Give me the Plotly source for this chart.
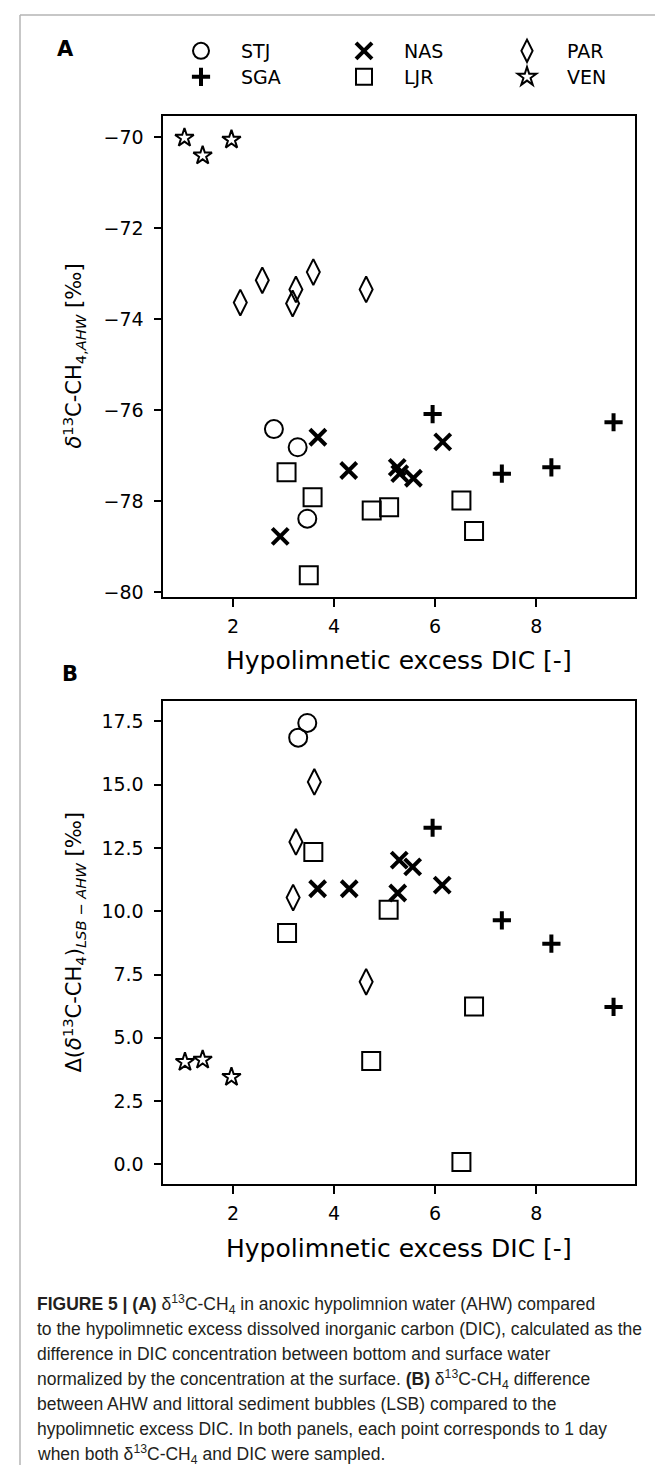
import plotly.graph_objects as go

# ---------------- data ----------------
STJ_A_x = [2.81, 3.28, 3.47]
STJ_A_y = [-76.42, -76.82, -78.39]
STJ_B_x = [3.29, 3.47]
STJ_B_y = [16.86, 17.44]

SGA_A_x = [5.95, 7.32, 8.30, 9.53]
SGA_A_y = [-76.09, -77.40, -77.26, -76.27]
SGA_B_x = [5.95, 7.32, 8.30, 9.53]
SGA_B_y = [13.30, 9.64, 8.72, 6.22]

NAS_A_x = [2.935, 3.68, 4.29, 5.25, 5.30, 5.57, 6.15]
NAS_A_y = [-78.78, -76.60, -77.33, -77.26, -77.40, -77.50, -76.70]
NAS_B_x = [3.675, 4.30, 5.26, 5.29, 5.555, 6.14]
NAS_B_y = [10.89, 10.89, 10.72, 12.02, 11.75, 11.03]

LJR_A_x = [3.06, 3.50, 3.575, 4.745, 5.09, 6.52, 6.77]
LJR_A_y = [-77.37, -79.63, -77.92, -78.21, -78.14, -77.99, -78.66]
LJR_B_x = [3.07, 3.59, 4.735, 5.08, 6.52, 6.77]
LJR_B_y = [9.14, 12.34, 4.08, 10.06, 0.09, 6.24]

PAR_A_x = [2.145, 2.58, 3.18, 3.245, 3.59, 4.635]
PAR_A_y = [-73.64, -73.15, -73.66, -73.35, -72.97, -73.35]
PAR_B_x = [3.19, 3.245, 3.61, 4.635]
PAR_B_y = [10.54, 12.74, 15.11, 7.21]

VEN_A_x = [1.04, 1.40, 1.97]
VEN_A_y = [-70.02, -70.41, -70.06]
VEN_B_x = [1.05, 1.40, 1.97]
VEN_B_y = [4.04, 4.13, 3.45]

SITES = ["STJ", "SGA", "NAS", "LJR", "PAR", "VEN"]
X_TICKS = [2, 4, 6, 8]
A_Y_TICKS = [-80, -78, -76, -74, -72, -70]
B_Y_TICKS = [0.0, 2.5, 5.0, 7.5, 10.0, 12.5, 15.0, 17.5]

XLABEL = "Hypolimnetic excess DIC [-]"
A_YLABEL = "<i>δ</i><sup>13</sup>C-CH<sub>4,<i>AHW</i></sub> [‰]"
B_YLABEL = "Δ(<i>δ</i><sup>13</sup>C-CH<sub>4</sub>)<sub><i>LSB</i> − <i>AHW</i></sub> [‰]"

CAPTION_LINES = [
    "<b>FIGURE 5 | (A)</b> δ<sup>13</sup>C-CH<sub>4</sub> in anoxic hypolimnion water (AHW) compared",
    "to the hypolimnetic excess dissolved inorganic carbon (DIC), calculated as the",
    "difference in DIC concentration between bottom and surface water",
    "normalized by the concentration at the surface. <b>(B)</b> δ<sup>13</sup>C-CH<sub>4</sub> difference",
    "between AHW and littoral sediment bubbles (LSB) compared to the",
    "hypolimnetic excess DIC. In both panels, each point corresponds to 1 day",
    "when both δ<sup>13</sup>C-CH<sub>4</sub> and DIC were sampled.",
]

# ---------------- layout geometry (pixels) ----------------
W, H = 663, 1465
AX_L, AX_R = 155, 627
A_TOP, A_BOT = 108, 589
B_TOP, B_BOT = 693, 1176

def px(x):
    return x / W

def py(y):
    return 1 - y / H

def pad_range(vals, frac=0.05):
    lo, hi = min(vals), max(vals)
    d = (hi - lo) * frac
    return [lo - d, hi + d]

all_x = STJ_A_x + SGA_A_x + NAS_A_x + LJR_A_x + PAR_A_x + VEN_A_x + \
        STJ_B_x + SGA_B_x + NAS_B_x + LJR_B_x + PAR_B_x + VEN_B_x
all_ay = STJ_A_y + SGA_A_y + NAS_A_y + LJR_A_y + PAR_A_y + VEN_A_y
all_by = STJ_B_y + SGA_B_y + NAS_B_y + LJR_B_y + PAR_B_y + VEN_B_y

xr = pad_range(all_x)
ayr = pad_range(all_ay)
byr = pad_range(all_by)

FONT = "DejaVu Sans"
BLACK = "black"

styles = {
    "STJ": dict(symbol="circle-open", size=18, line=dict(width=2, color=BLACK)),
    "SGA": dict(symbol="cross-thin-open", size=13, line=dict(width=4, color=BLACK)),
    "NAS": dict(symbol="x-thin-open", size=16, line=dict(width=4, color=BLACK)),
    "LJR": dict(symbol="square-open", size=18, line=dict(width=2, color=BLACK)),
    "PAR": dict(symbol="diamond-tall-open", size=18.5, line=dict(width=2, color=BLACK)),
    "VEN": dict(symbol="star-open", size=14, line=dict(width=2, color=BLACK)),
}
# two legend rows: STJ / NAS / PAR on top, SGA / LJR / VEN below
legend_of = {"STJ": "legend", "NAS": "legend", "PAR": "legend",
             "SGA": "legend2", "LJR": "legend2", "VEN": "legend2"}

data_A = {"STJ": (STJ_A_x, STJ_A_y), "SGA": (SGA_A_x, SGA_A_y),
          "NAS": (NAS_A_x, NAS_A_y), "LJR": (LJR_A_x, LJR_A_y),
          "PAR": (PAR_A_x, PAR_A_y), "VEN": (VEN_A_x, VEN_A_y)}
data_B = {"STJ": (STJ_B_x, STJ_B_y), "SGA": (SGA_B_x, SGA_B_y),
          "NAS": (NAS_B_x, NAS_B_y), "LJR": (LJR_B_x, LJR_B_y),
          "PAR": (PAR_B_x, PAR_B_y), "VEN": (VEN_B_x, VEN_B_y)}

fig = go.Figure()
for s in SITES:
    x, y = data_A[s]
    fig.add_trace(go.Scatter(x=x, y=y, mode="markers", name=s,
                             marker=dict(color=BLACK, **styles[s]),
                             xaxis="x", yaxis="y", legend=legend_of[s],
                             showlegend=True))
for s in SITES:
    x, y = data_B[s]
    fig.add_trace(go.Scatter(x=x, y=y, mode="markers", name=s,
                             marker=dict(color=BLACK, **styles[s]),
                             xaxis="x2", yaxis="y2", showlegend=False))

axis_common = dict(showline=True, linewidth=2, linecolor=BLACK, mirror=True,
                   ticks="outside", ticklen=7.5, tickwidth=1.5, tickcolor=BLACK,
                   showgrid=False, zeroline=False, automargin=False,
                   tickfont=dict(family=FONT, size=19, color=BLACK))

fig.update_layout(
    width=W, height=H, template="none",
    paper_bgcolor="white", plot_bgcolor="white",
    margin=dict(l=0, r=0, t=0, b=0, pad=0),
    xaxis=dict(domain=[px(AX_L), px(AX_R)], range=xr, tickvals=X_TICKS,
               anchor="y", ticklabelstandoff=4, **axis_common),
    yaxis=dict(domain=[py(A_BOT), py(A_TOP)], range=ayr, tickvals=A_Y_TICKS,
               anchor="x", ticklabelstandoff=6, **axis_common),
    xaxis2=dict(domain=[px(AX_L), px(AX_R)], range=xr, tickvals=X_TICKS,
                anchor="y2", ticklabelstandoff=4, **axis_common),
    yaxis2=dict(domain=[py(B_BOT), py(B_TOP)], range=byr, tickvals=B_Y_TICKS,
                tickformat=".1f", anchor="x2", ticklabelstandoff=6, **axis_common),
)

leg_common = dict(orientation="h", xanchor="left", yanchor="middle",
                  itemwidth=70, entrywidth=78, entrywidthmode="pixels",
                  bgcolor="rgba(0,0,0,0)", borderwidth=0,
                  font=dict(family=FONT, size=19, color=BLACK))
fig.update_layout(
    legend=dict(x=px(193 - 40), y=py(43), **leg_common),
    legend2=dict(x=px(193 - 40), y=py(69), **leg_common),
)

ann = []
def label(text, x, y, size, angle=0, family=FONT):
    ann.append(dict(text=text, x=px(x), y=py(y), xref="paper", yref="paper",
                    xanchor="center", yanchor="middle", textangle=angle,
                    showarrow=False, font=dict(family=family, size=size, color=BLACK)))

label("<b>A</b>", 58, 41, 21)
label("<b>B</b>", 62, 666, 21)
label(XLABEL, (AX_L + AX_R) / 2, 652, 25)
label(XLABEL, (AX_L + AX_R) / 2, 1240, 25)
label(A_YLABEL, 65, (A_TOP + A_BOT) / 2, 21, angle=-90)
label(B_YLABEL, 65, (B_TOP + B_BOT) / 2, 21, angle=-90)

for i, line in enumerate(CAPTION_LINES):
    ann.append(dict(text=line, x=px(27), y=py(1296 + 25 * i), xref="paper", yref="paper",
                    xanchor="left", yanchor="middle", align="left", showarrow=False,
                    font=dict(family="Liberation Sans", size=17.5, color="#231f20")))
fig.update_layout(annotations=ann)

# outer grey frame (left, top, right)
FRAME = "#b5b5b5"
fig.update_layout(shapes=[
    dict(type="line", xref="paper", yref="paper", x0=px(12), x1=px(12), y0=0, y1=py(7),
         line=dict(color=FRAME, width=1.5)),
    dict(type="line", xref="paper", yref="paper", x0=px(12), x1=px(661.5), y0=py(7), y1=py(7),
         line=dict(color=FRAME, width=1.5)),
    dict(type="line", xref="paper", yref="paper", x0=px(661.5), x1=px(661.5), y0=0, y1=py(7),
         line=dict(color=FRAME, width=1.5)),
])

fig.write_html("out.html")
